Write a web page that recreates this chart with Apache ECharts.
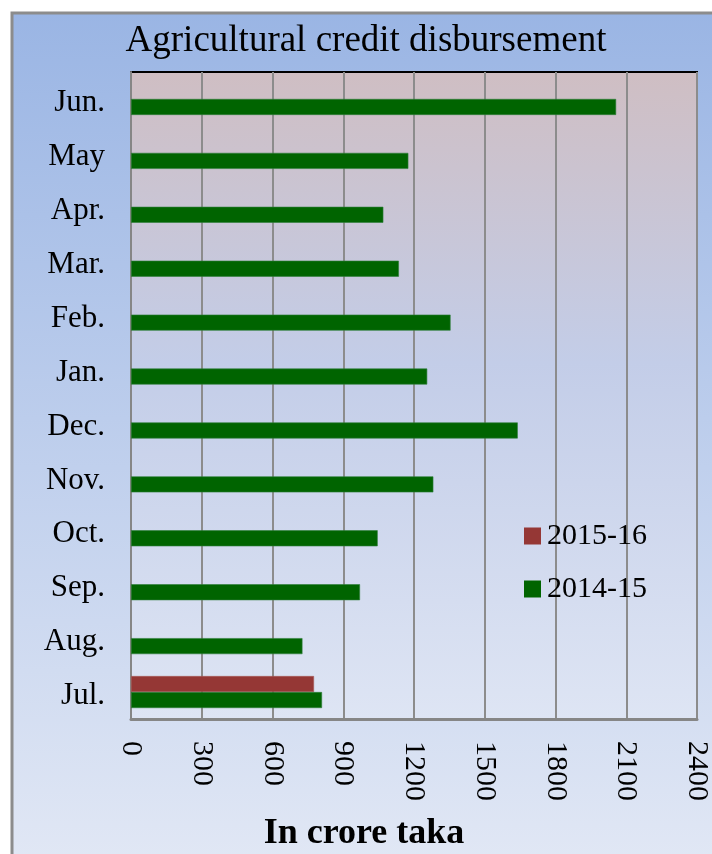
<!DOCTYPE html>
<html>
<head>
<meta charset="utf-8">
<script src="https://cdn.jsdelivr.net/npm/echarts@6/dist/echarts.min.js"></script>
<style>
  html, body { margin: 0; padding: 0; background: #fff; }
  #barchart { width: 712px; height: 854px; }
</style>
</head>
<body>
<div id="barchart"></div>
<script>
// months, bottom to top
var months = ['Jul.', 'Aug.', 'Sep.', 'Oct.', 'Nov.', 'Dec.', 'Jan.', 'Feb.', 'Mar.', 'Apr.', 'May', 'Jun.'];
// in crore taka
var fy1415 = [810, 727, 971, 1046, 1282, 1640, 1256, 1355, 1136, 1070, 1176, 2057];
var fy1516 = [776, null, null, null, null, null, null, null, null, null, null, null];
var xTicks = [0, 300, 600, 900, 1200, 1500, 1800, 2100, 2400];

var serif = 'Liberation Serif';
var mychart = echarts.init(document.getElementById('barchart'));

var options = {
    backgroundColor: '#fff',
    animation: false,
    graphic: [
        {
            type: 'rect', z: -100, silent: true,
            shape: { x: 12, y: 13, width: 720, height: 860 },
            style: {
                fill: new echarts.graphic.LinearGradient(0, 0, 0, 1, [
                    { offset: 0, color: '#9ab5e4' },
                    { offset: 1, color: '#e2e8f5' }
                ]),
                stroke: '#8c8c8c', lineWidth: 3
            }
        },
        {
            type: 'text', x: 366, y: 23,
            style: { text: 'Agricultural credit disbursement', align: 'center', fontFamily: serif, fontSize: 37, fill: '#000' }
        },
        {
            type: 'text', x: 364, y: 816,
            style: { text: 'In crore taka', align: 'center', fontFamily: serif, fontSize: 36, fontWeight: 'bold', fill: '#000' }
        }
    ],
    legend: {
        data: ['2015-16', '2014-15'],
        orient: 'vertical',
        left: 524, top: 521,
        padding: 0,
        icon: 'rect',
        itemWidth: 17, itemHeight: 17,
        itemGap: 23,
        itemStyle: { borderWidth: 0 },
        textStyle: { fontFamily: serif, fontSize: 30, color: '#000', padding: [0, 0, 0, 1] }
    },
    grid: {
        left: 131, top: 72, right: 11, bottom: 135,
        show: true,
        backgroundColor: new echarts.graphic.LinearGradient(0, 0, 0, 1, [
            { offset: 0, color: '#cfbec3' },
            { offset: 0.45, color: '#c3cde8' },
            { offset: 1, color: '#dee5f4' }
        ]),
        borderColor: '#000', borderWidth: 2
    },
    xAxis: {
        type: 'value',
        min: xTicks[0], max: xTicks[xTicks.length - 1], interval: 300,
        axisLine: { show: true, lineStyle: { color: '#868686', width: 3 } },
        axisTick: { show: false },
        splitLine: { lineStyle: { color: '#8c8c8c', width: 2 } },
        axisLabel: {
            rotate: -90, margin: 22, fontFamily: serif, fontSize: 30, color: '#000',
            formatter: function (v) { return String(v); }
        }
    },
    yAxis: {
        type: 'category',
        data: months,
        axisLine: { show: true, lineStyle: { color: '#868686', width: 2 } },
        axisTick: { show: false },
        axisLabel: { margin: 26, fontFamily: serif, fontSize: 31, color: '#000', verticalAlign: 'top', lineHeight: 8 }
    },
    series: [
        {
            name: '2015-16', type: 'bar', data: fy1516,
            barWidth: 16, barGap: '0%',
            itemStyle: { color: '#953735', borderColor: '#a85a58', borderWidth: 0.6 }
        },
        {
            name: '2014-15', type: 'bar', data: fy1415,
            barWidth: 16, barGap: '0%',
            itemStyle: { color: '#006400', borderColor: '#2f7d3a', borderWidth: 0.6 }
        }
    ]
};
mychart.setOption(options);
</script>
</body>
</html>
